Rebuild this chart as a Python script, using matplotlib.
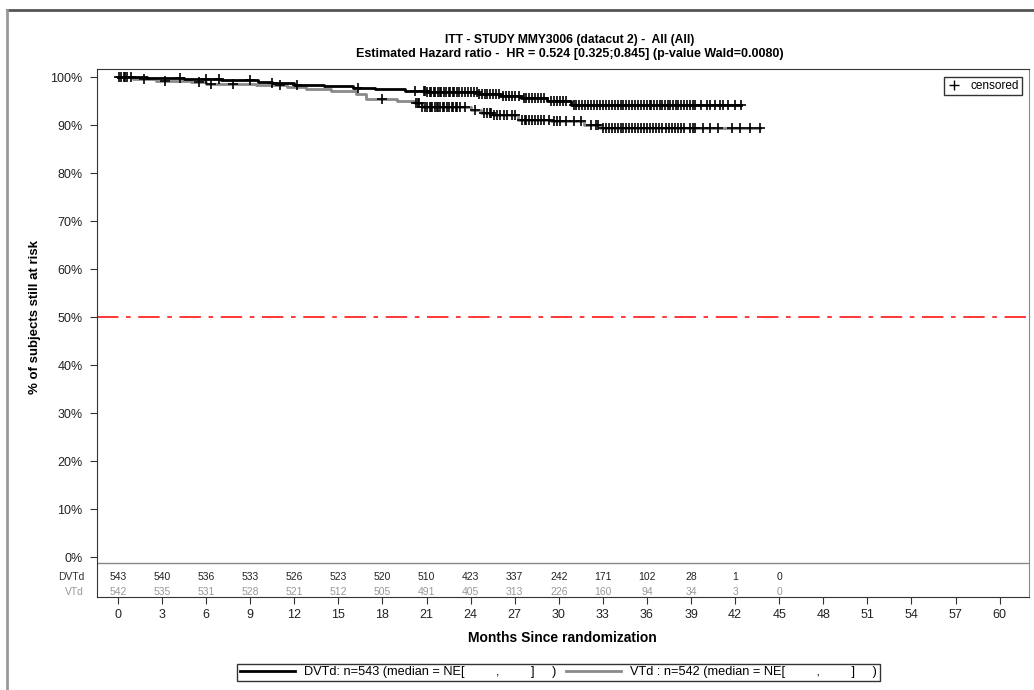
import numpy as np
import matplotlib
matplotlib.use("Agg")
import matplotlib.pyplot as plt
from matplotlib.lines import Line2D

plt.rcParams["font.family"] = ["Liberation Sans", "DejaVu Sans"]

# Kaplan-Meier steps (months, % still at risk)
dvtd_t = [0, 2.0, 4.5, 7.0, 9.5, 10.5, 12.0, 14.0, 16.0, 17.5, 19.5, 21.0, 24.5, 26.0, 27.4, 29.2, 30.8, 42.4]
dvtd_s = [100, 99.8, 99.6, 99.3, 99.0, 98.7, 98.4, 98.1, 97.8, 97.5, 97.1, 96.8, 96.5, 96.1, 95.6, 95.1, 94.2, 94.2]
vtd_t = [0, 1.0, 2.6, 5.0, 6.0, 9.4, 11.5, 12.8, 14.5, 16.2, 16.9, 19.0, 20.2, 20.7, 24.0, 24.7, 25.5, 27.2, 29.5,
         31.7, 32.8, 43.7]
vtd_s = [100, 99.6, 99.2, 98.9, 98.6, 98.3, 97.9, 97.5, 97.0, 96.5, 95.4, 95.0, 94.5, 93.7, 93.1, 92.5, 92.0, 91.1,
         90.8, 90.0, 89.4, 89.4]

dvtd_cens = [0.1, 0.4, 0.6, 0.9, 4.2, 6.0, 6.9, 9.0, 10.5, 12.2, 16.3, 20.2, 20.8, 20.9, 21.0, 21.2, 21.3, 21.5,
             21.6, 21.8, 21.9, 22.0, 22.2, 22.3, 22.5, 22.6, 22.8, 22.9, 23.1, 23.2, 23.4, 23.6, 23.8, 24.0, 24.2,
             24.4, 24.6, 24.8, 25.0, 25.1, 25.3, 25.5, 25.7, 25.9, 26.2, 26.4, 26.6, 26.8, 27.0, 27.3, 27.6, 27.8,
             28.0, 28.2, 28.4, 28.6, 28.8, 29.0, 29.5, 29.7, 29.9, 30.1, 30.3, 30.5, 31.0, 31.2, 31.4, 31.6, 31.8,
             32.0, 32.2, 32.4, 32.6, 32.8, 33.0, 33.2, 33.4, 33.6, 33.8, 34.0, 34.2, 34.4, 34.6, 34.8, 35.0, 35.2,
             35.4, 35.6, 35.8, 36.0, 36.2, 36.3, 36.5, 36.7, 36.9, 37.0, 37.2, 37.4, 37.6, 37.8, 38.0, 38.1, 38.3,
             38.5, 38.7, 38.9, 39.1, 39.3, 39.7, 40.1, 40.3, 40.6, 41.0, 41.2, 41.5, 42.0, 42.4]
vtd_cens = [0.2, 0.5, 1.8, 3.2, 5.5, 6.3, 7.8, 11.0, 18.0, 20.3, 20.4, 20.5, 20.7, 20.9, 21.0, 21.2, 21.3, 21.4,
            21.6, 21.7, 21.8, 21.9, 22.1, 22.2, 22.4, 22.5, 22.7, 22.8, 23.0, 23.1, 23.3, 23.6, 24.3, 24.9, 25.1,
            25.3, 25.4, 25.6, 25.8, 26.0, 26.3, 26.5, 26.8, 27.0, 27.5, 27.7, 27.8, 28.0, 28.2, 28.4, 28.6, 28.8,
            29.0, 29.3, 29.7, 29.9, 30.1, 30.5, 31.0, 31.5, 32.2, 32.5, 32.7, 33.0, 33.2, 33.4, 33.6, 33.8, 34.0,
            34.2, 34.4, 34.6, 34.8, 35.0, 35.2, 35.4, 35.6, 35.8, 36.0, 36.2, 36.4, 36.6, 36.8, 37.0, 37.3, 37.5,
            37.7, 37.9, 38.1, 38.3, 38.5, 38.9, 39.1, 39.3, 39.8, 40.3, 40.8, 41.8, 42.3, 43.0, 43.7]

risk_times = [0, 3, 6, 9, 12, 15, 18, 21, 24, 27, 30, 33, 36, 39, 42, 45]
dvtd_risk = [543, 540, 536, 533, 526, 523, 520, 510, 423, 337, 242, 171, 102, 28, 1, 0]
vtd_risk = [542, 535, 531, 528, 521, 512, 505, 491, 405, 313, 226, 160, 94, 34, 3, 0]

x_ticks = list(range(0, 61, 3))
y_ticks = list(range(0, 101, 10))

GRAY = "#8a8a8a"


def step_value(t, times, surv):
    i = np.searchsorted(times, t, side="right") - 1
    return np.array(surv)[i]


fig = plt.figure(figsize=(10.34, 6.9), dpi=100)
ax = fig.add_axes([0.0935, 0.1348, 0.9017, 0.7652])

ax.step(vtd_t, vtd_s, where="post", color=GRAY, lw=2)
ax.step(dvtd_t, dvtd_s, where="post", color="black", lw=2)
ax.plot(vtd_cens, step_value(vtd_cens, vtd_t, vtd_s), "+", color="black", ms=6.5, mew=1.2)
ax.plot(dvtd_cens, step_value(dvtd_cens, dvtd_t, dvtd_s), "+", color="black", ms=6.5, mew=1.2)

ax.axhline(50, color="red", lw=1.1, dashes=(14, 5, 3, 5))
ax.axhline(-1.25, color="#888888", lw=1)

# numbers at risk
for t, a, b in zip(risk_times, dvtd_risk, vtd_risk):
    ax.text(t, -4.2, str(a), ha="center", va="center", fontsize=7.5, color="#222222")
    ax.text(t, -7.2, str(b), ha="center", va="center", fontsize=7.5, color="#999999")
ax.text(-2.3, -4.2, "DVTd", ha="right", va="center", fontsize=7.5, color="#333333")
ax.text(-2.3, -7.2, "VTd", ha="right", va="center", fontsize=7.5, color="#999999")

ax.set_xlim(-1.45, 62.0)
ax.set_ylim(-8.33, 101.67)
ax.set_yticks(y_ticks)
ax.set_yticklabels([f"{v}%" for v in y_ticks])
ax.set_xticks(x_ticks)
ax.tick_params(axis="both", labelsize=9, length=5, color="#333333", labelcolor="#222222")
ax.tick_params(axis="y", pad=5)
ax.tick_params(axis="x", pad=4)

for side in ["left", "top", "bottom"]:
    ax.spines[side].set_color("#333333")
ax.spines["right"].set_color("#888888")

ax.set_xlabel("Months Since randomization", fontsize=10, fontweight="bold", labelpad=7)
ax.set_ylabel("% of subjects still at risk", fontsize=9.5, fontweight="bold")
ax.yaxis.set_label_coords(-0.06, 0.53)

fig.text(0.551, 0.942, "ITT - STUDY MMY3006 (datacut 2) -  All (All)", ha="center", va="center",
         fontsize=8.7, fontweight="bold")
fig.text(0.551, 0.922, "Estimated Hazard ratio -  HR = 0.524 [0.325;0.845] (p-value Wald=0.0080)",
         ha="center", va="center", fontsize=9, fontweight="bold")

# censored legend
cens_leg = ax.legend([Line2D([], [], ls="none", marker="+", color="black", ms=7, mew=1)], ["censored"],
                     loc="upper right", bbox_to_anchor=(0.9925, 0.985), fontsize=8.5, frameon=True,
                     fancybox=False, edgecolor="black", handlelength=1.2, handletextpad=0.8,
                     borderpad=0.25, borderaxespad=0)
cens_leg.get_frame().set_linewidth(1)

# bottom legend
handles = [Line2D([], [], color="black", lw=2), Line2D([], [], color=GRAY, lw=2)]
labels = ["DVTd: n=543 (median = NE[         ,         ]     )",
          "VTd : n=542 (median = NE[         ,         ]     )"]
leg = fig.legend(handles, labels, loc="center", bbox_to_anchor=(0.54, 0.026), ncol=2, fontsize=9.2,
                 frameon=True, fancybox=False, edgecolor="black", handlelength=4.3, handletextpad=0.7,
                 columnspacing=0.8, borderpad=0.2)
leg.get_frame().set_linewidth(1)

# outer frame of the original page
fig.add_artist(Line2D([0.0068, 1.0], [0.986, 0.986], transform=fig.transFigure, color="#555555", lw=2))
fig.add_artist(Line2D([0.0072, 0.0072], [0.0, 0.986], transform=fig.transFigure, color="#999999", lw=2))

fig.savefig("out.png", dpi=100)
